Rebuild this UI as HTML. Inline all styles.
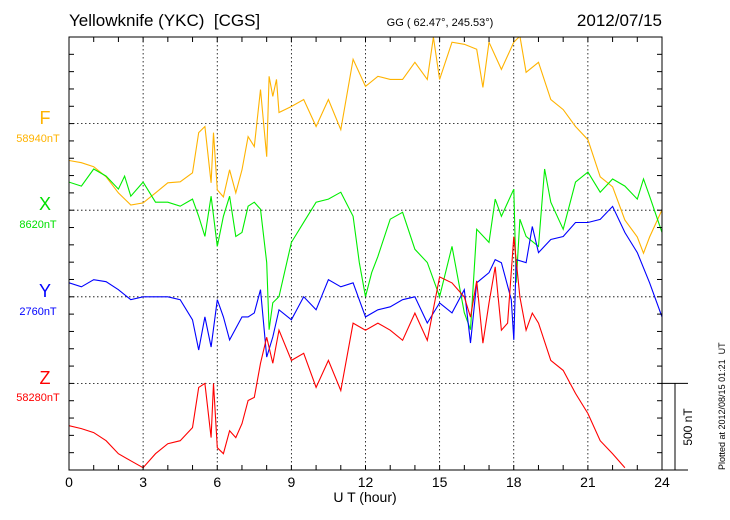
<!DOCTYPE html>
<html><head><meta charset="utf-8"><style>
body{margin:0;background:#fff;}
svg{display:block;font-family:"Liberation Sans",sans-serif;}
</style></head><body>
<svg id="chart" width="730" height="520" viewBox="0 0 730 520">
<text x="69" y="26" font-size="17">Yellowknife (YKC)&#160; [CGS]</text>
<text x="440" y="26" font-size="11" text-anchor="middle">GG ( 62.47°, 245.53°)</text>
<text x="662" y="26" font-size="17" text-anchor="end">2012/07/15</text>
<g id="labels">
<text x="45" y="124" font-size="18" fill="#ffb300" text-anchor="middle">F</text>
<text x="38" y="142" font-size="11" fill="#ffb300" text-anchor="middle">58940nT</text>
<text x="45" y="210" font-size="18" fill="#00e000" text-anchor="middle">X</text>
<text x="38" y="228" font-size="11" fill="#00e000" text-anchor="middle">8620nT</text>
<text x="45" y="297" font-size="18" fill="#0000ff" text-anchor="middle">Y</text>
<text x="38" y="315" font-size="11" fill="#0000ff" text-anchor="middle">2760nT</text>
<text x="45" y="384" font-size="18" fill="#ff0000" text-anchor="middle">Z</text>
<text x="38" y="401" font-size="11" fill="#ff0000" text-anchor="middle">58280nT</text>
</g>
<text x="365" y="502" font-size="14" text-anchor="middle">U T (hour)</text>
<text transform="translate(725,470) rotate(-90)" font-size="9">Plotted at 2012/08/15 01:21&#160; UT</text>
<text transform="translate(692,427) rotate(-90)" font-size="12" text-anchor="middle">500 nT</text>
<g id="grid"></g><g id="series"></g><g id="axes"></g>
</svg>
<script>
const hourTicks=[0,3,6,9,12,15,18,21,24];
const fT=[0,0.5,1,1.5,2,2.5,3,3.5,4,4.5,5,5.25,5.5,5.75,5.85,6,6.25,6.5,6.75,7,7.25,7.5,7.75,8,8.1,8.25,8.4,8.5,9,9.5,10,10.5,11,11.5,12,12.5,13,13.5,14,14.5,14.75,15,15.5,16,16.5,16.75,17,17.5,18,18.25,18.5,19,19.5,20,20.5,21,21.5,22,22.5,23,23.25,23.5,24];
const fV=[-213,-226,-249,-307,-400,-470,-458,-400,-342,-336,-284,-52,-17,-342,-52,-383,-423,-267,-400,-267,-75,-133,197,-191,273,157,255,64,99,139,-17,139,-35,371,215,273,255,255,354,255,499,255,470,458,429,209,470,313,470,505,296,354,139,81,-17,-93,-307,-365,-557,-655,-748,-655,-498];
const xT=[0,0.5,1,1.5,2,2.25,2.5,3,3.5,4,4.5,5,5.25,5.5,5.75,6,6.25,6.5,6.75,7,7.25,7.5,7.75,8,8.1,8.25,8.5,9,9.5,10,10.5,11,11.5,11.75,12,12.25,12.5,13,13.5,14,14.5,15,15.5,16,16.25,16.5,17,17.25,17.5,18,18.1,18.25,18.5,19,19.25,19.5,20,20.5,21,21.5,22,22.5,23,23.25,23.5,24];
const xV=[162,139,238,197,122,197,81,162,46,46,23,64,-35,-151,81,-209,-35,81,-151,-128,23,46,6,-302,-690,-534,-499,-186,-70,46,64,104,-35,-302,-499,-360,-267,-52,-12,-226,-302,-499,-209,-592,-690,-110,-186,64,-35,122,-418,-52,-151,-209,238,46,-110,162,220,104,180,139,64,180,81,-128];
const yT=[0,0.5,1,1.5,2,2.5,3,3.5,4,4.5,5,5.25,5.5,5.75,6,6.25,6.5,7,7.25,7.5,7.75,8,8.25,8.5,9,9.5,10,10.5,11,11.5,12,12.5,13,13.5,14,14.5,15,15.5,16,16.25,16.5,17,17.25,17.5,17.9,18,18.1,18.5,18.75,19,19.5,20,20.5,21,21.5,22,22.5,23,23.5,24];
const yV=[81,58,99,87,41,-17,0,0,0,-17,-133,-307,-116,-290,-17,-116,-249,-116,-116,-93,41,-348,-232,-75,-133,0,-75,99,58,81,-116,-75,-58,-17,0,-151,-35,-93,41,-267,81,139,215,197,-17,-249,215,197,406,255,331,348,429,429,447,522,371,255,81,-116];
const zT=[0,0.5,1,1.5,2,2.5,3,3.5,4,4.5,5,5.25,5.5,5.75,5.85,6,6.25,6.5,6.75,7,7.25,7.5,7.75,8,8.25,8.5,9,9.5,10,10.5,11,11.5,12,12.5,13,13.5,14,14.5,15,15.5,16,16.25,16.5,16.75,17,17.25,17.5,17.75,18,18.25,18.5,18.75,19,19.5,20,20.5,21,21.5,22,22.5];
const zV=[-244,-261,-284,-331,-406,-447,-487,-406,-348,-331,-255,-23,0,-313,0,-371,-406,-273,-313,-232,-99,-81,116,267,116,307,133,174,-23,133,-41,348,307,348,307,249,406,249,615,580,499,383,592,232,464,673,307,348,847,499,307,406,348,133,75,-58,-174,-331,-406,-487];
const L=69,R=662,T=37,B=470,band=(B-T)/5;
const xs=h=>L+(R-L)*h/24;
const ys=(base,v)=>base-v*band/500;
const NS="http://www.w3.org/2000/svg";
function mk(tag,parent){const e=document.createElementNS(NS,tag);document.getElementById(parent).appendChild(e);return e;}
const defs=document.createElementNS(NS,'defs');document.getElementById('chart').appendChild(defs);
defs.innerHTML='<clipPath id="pc"><rect x="'+L+'" y="'+T+'" width="'+(R-L)+'" height="'+(B-T)+'"/></clipPath>';
for(let i=1;i<hourTicks.length-1;i++){const l=mk('line','grid');


l.setAttribute('x1',xs(hourTicks[i]));l.setAttribute('x2',xs(hourTicks[i]));l.setAttribute('y1',T);l.setAttribute('y2',B);l.setAttribute('stroke','#000');l.setAttribute('stroke-width','0.8');l.setAttribute('stroke-dasharray','1.5,2.5');}
for(let k=1;k<=4;k++){const l=mk('line','grid');


l.setAttribute('x1',L);l.setAttribute('x2',R);l.setAttribute('y1',T+k*band);l.setAttribute('y2',T+k*band);l.setAttribute('stroke','#000');l.setAttribute('stroke-width','0.8');l.setAttribute('stroke-dasharray','1.5,2.5');}
const series=[['f-series',fT,fV,T+band,'#ffb300'],['x-series',xT,xV,T+2*band,'#00ee00'],['y-series',yT,yV,T+3*band,'#0000ff'],['z-series',zT,zV,T+4*band,'#ff0000']];
series.forEach(s=>{const p=mk('path','series');


p.setAttribute('d',s[1].map((t,i)=>(i?'L':'M')+xs(t).toFixed(1)+','+ys(s[3],s[2][i]).toFixed(1)).join(''));
p.setAttribute('fill','none');p.setAttribute('stroke',s[4]);p.setAttribute('stroke-width','1.1');p.setAttribute('clip-path','url(#pc)');});
const fr=mk('rect','axes');


fr.setAttribute('x',L);fr.setAttribute('y',T);fr.setAttribute('width',R-L);fr.setAttribute('height',B-T);fr.setAttribute('fill','none');fr.setAttribute('stroke','#000');fr.setAttribute('stroke-width','1');
function ln(name,x1,y1,x2,y2){const l=mk('line','axes');


l.setAttribute('x1',x1);l.setAttribute('y1',y1);l.setAttribute('x2',x2);l.setAttribute('y2',y2);l.setAttribute('stroke','#000');l.setAttribute('stroke-width','1');}
for(let h=1;h<24;h++){ln('x-tick',xs(h),B,xs(h),B-5);ln('x-tick-top',xs(h),T,xs(h),T+5);}
for(let k=1;k<25;k++){const y=T+k*band/5;ln('y-tick',L,y,L+5,y);ln('y-tick-right',R,y,R-5,y);}
hourTicks.forEach(h=>{const t=mk('text','axes');


t.setAttribute('x',xs(h));t.setAttribute('y',B+17);t.setAttribute('font-size','14');t.setAttribute('text-anchor','middle');t.textContent=h;});
ln('scale-bar',675,T+4*band,675,B);ln('scale-bar-top',R,T+4*band,688,T+4*band);ln('scale-bar-bottom',R,B,688,B);
</script>
</body></html>
